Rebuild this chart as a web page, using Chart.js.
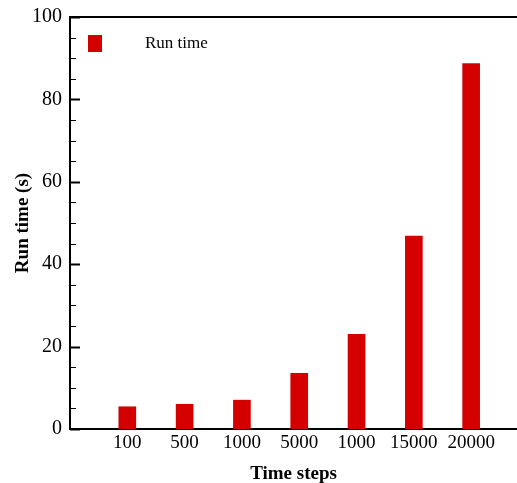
<!DOCTYPE html>
<html>
<head>
<meta charset="utf-8">
<script src="https://cdn.jsdelivr.net/npm/chart.js@4/dist/chart.umd.min.js"></script>
<style>
  html, body { margin: 0; padding: 0; background: #fff; overflow: hidden; }
  #wrap { width: 517px; height: 483px; }
</style>
</head>
<body>
<div id="wrap"><canvas id="runChart" width="517" height="483"></canvas></div>
<script>
// time step labels (the fifth one really is printed as 1000)
const steps = ['100', '500', '1000', '5000', '1000', '15000', '20000'];
// run time in seconds
const runTimes = [5.4, 6.0, 7.0, 13.5, 23.0, 46.8, 88.7];
const yTicks = [0, 20, 40, 60, 80, 100];

const barColor = '#d40000';
const serif = '"Liberation Serif", "Times New Roman", serif';

// frame top line, inward y ticks and the legend drawn inside the plot
const framePlugin = {
  id: 'frame',
  afterDraw(chart) {
    const { ctx, chartArea } = chart;
    const y = chart.scales.y;
    ctx.save();
    ctx.strokeStyle = '#000';
    ctx.lineWidth = 2;
    ctx.beginPath();
    ctx.moveTo(chartArea.left - 1, chartArea.top);
    ctx.lineTo(chart.width, chartArea.top);
    ctx.stroke();

    for (let v = 0; v <= 100; v += 5) {
      const py = Math.round(y.getPixelForValue(v)) + 0.5;
      const len = v % 20 === 0 ? 10 : 6;
      ctx.lineWidth = v % 20 === 0 ? 2 : 1;
      ctx.beginPath();
      ctx.moveTo(chartArea.left, py);
      ctx.lineTo(chartArea.left + len, py);
      ctx.stroke();
    }

    const ds = chart.data.datasets[0];
    ctx.fillStyle = ds.backgroundColor;
    ctx.fillRect(88, 35, 14, 17);
    ctx.fillStyle = '#000';
    ctx.font = '17px ' + serif;
    ctx.textBaseline = 'middle';
    ctx.fillText(ds.label, 145, 44);
    ctx.restore();
  }
};

new Chart(document.getElementById('runChart'), {
  type: 'bar',
  data: {
    datasets: [{
      label: 'Run time',
      data: runTimes.map((v, i) => ({ x: i + 1, y: v })),
      backgroundColor: barColor,
      barThickness: 17
    }]
  },
  options: {
    responsive: false,
    animation: false,
    layout: { padding: { top: 17, right: 0, left: 0, bottom: 0 } },
    plugins: { legend: { display: false }, tooltip: { enabled: false } },
    scales: {
      x: {
        type: 'linear',
        min: 0,
        max: 7.8,
        offset: false,
        grid: { display: false, drawTicks: false },
        border: { display: true, color: '#000', width: 2 },
        afterBuildTicks: (scale) => { scale.ticks = steps.map((s, i) => ({ value: i + 1 })); },
        afterFit: (scale) => { scale.height = 54; scale.paddingLeft = 0; scale.paddingRight = 0; },
        ticks: {
          padding: 3,
          color: '#000',
          maxRotation: 0,
          autoSkip: false,
          font: { family: serif, size: 19 },
          callback: (v) => steps[v - 1]
        },
        title: {
          display: true,
          text: 'Time steps',
          color: '#000',
          padding: { top: 12, bottom: -2 },
          font: { family: serif, size: 19, weight: 'bold' }
        }
      },
      y: {
        min: 0,
        max: 100,
        grid: { display: false, drawTicks: false },
        border: { display: true, color: '#000', width: 2 },
        afterBuildTicks: (scale) => { scale.ticks = yTicks.map(v => ({ value: v })); },
        afterFit: (scale) => { scale.width = 70; scale.paddingTop = 0; scale.paddingBottom = 0; },
        ticks: {
          padding: 8,
          color: '#000',
          font: { family: serif, size: 20 }
        },
        title: {
          display: true,
          text: 'Run time (s)',
          color: '#000',
          padding: { top: 12, bottom: 4 },
          font: { family: serif, size: 19, weight: 'bold' }
        }
      }
    }
  },
  plugins: [framePlugin]
});
</script>
</body>
</html>
